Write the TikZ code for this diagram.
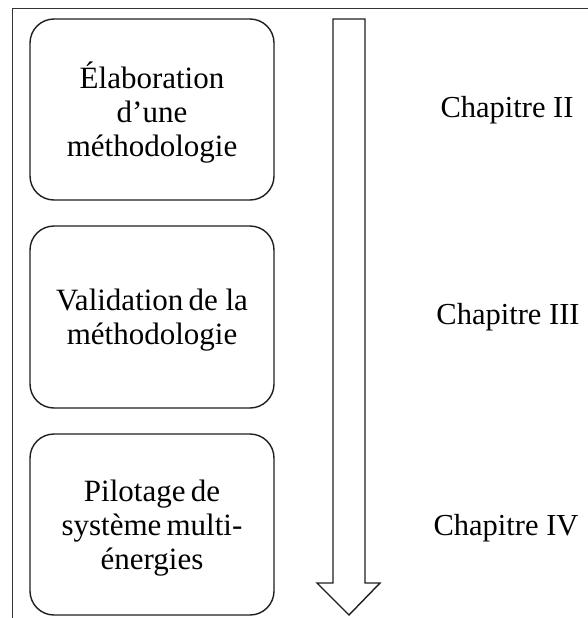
\documentclass[tikz,border=0pt]{standalone}
\usepackage{fontspec}
\setmainfont{Liberation Serif}
\begin{document}
\begin{tikzpicture}[x=1pt,y=-1pt,
  boxstyle/.style={draw=black!88,line width=1.4pt,rounded corners=24pt},
  boxtext/.style={align=center,font=\fontsize{31}{34}\selectfont,inner sep=0pt},
  chaptext/.style={font=\fontsize{30.5}{34}\selectfont,inner sep=0pt},
  framestyle/.style={draw=black!80,line width=1pt},
  arrowstyle/.style={draw=black!88,line width=1.4pt,line join=miter}]
\useasboundingbox (0,0) rectangle (588,618);
% frame
\coordinate (ftl) at (12,9);
\coordinate (ftr) at (588,9);
\coordinate (fbl) at (12,618);
\draw[framestyle] (ftr) -- (ftl) -- (fbl);
% boxes
\draw[boxstyle] (30,19) rectangle (274,200);
\draw[boxstyle] (30,226) rectangle (274,408);
\draw[boxstyle] (30,434) rectangle (274,615);
\node[boxtext] (b1) at (152,113) {Élaboration\\d’une\\méthodologie};
\node[boxtext] (b2) at (152,320) {Validation\,de la\\méthodologie};
\node[boxtext] (b3) at (152,528) {Pilotage\,de\\système\,multi-\\énergies};
% arrow
\draw[arrowstyle] (333,19) -- (365,19) -- (365,583) -- (380,583) -- (349,615) -- (317,583) -- (333,583) -- cycle;
% chapter labels
\node[chaptext] (c2) at (507,110) {Chapitre II};
\node[chaptext] (c3) at (508,317) {Chapitre III};
\node[chaptext] (c4) at (506,528) {Chapitre IV};
\end{tikzpicture}
\end{document}
